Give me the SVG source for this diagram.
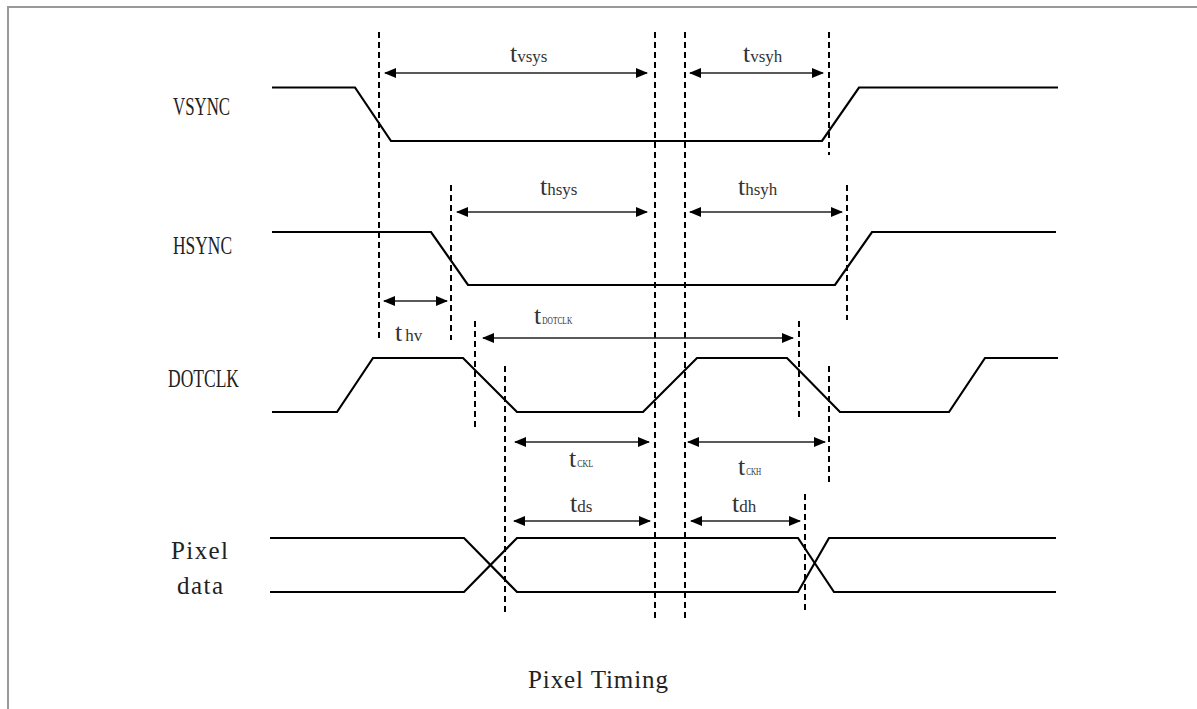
<svg xmlns="http://www.w3.org/2000/svg" width="1197" height="709" viewBox="0 0 1197 709">
<defs>
<marker id="ah" viewBox="0 0 12 10" refX="11" refY="5" markerWidth="12" markerHeight="10" markerUnits="userSpaceOnUse" orient="auto-start-reverse">
<path d="M0,0 L12,5 L0,10 Z" fill="#000"/>
</marker>
</defs>
<style>
.sig{fill:none;stroke:#000;stroke-width:2.2;stroke-linejoin:miter}
.dash{fill:none;stroke:#000;stroke-width:2;stroke-dasharray:6 4}
.dim{fill:none;stroke:#222;stroke-width:1.3;marker-start:url(#ah);marker-end:url(#ah)}
.lbl{font-family:"Liberation Serif",serif;font-size:25px;fill:#222}
.t{font-family:"Liberation Serif",serif;font-size:26px;fill:#333}
.s{font-size:17px}
.c{font-size:10px}
.frame{stroke:#999;stroke-width:2;fill:none}
</style>
<rect width="1197" height="709" fill="#fff"/>
<path class="frame" d="M8,709 L8,7 L1197,7"/>

<g id="labels">
<text class="lbl" x="173" y="115" textLength="57" lengthAdjust="spacingAndGlyphs">VSYNC</text>
<text class="lbl" x="173" y="254" textLength="59" lengthAdjust="spacingAndGlyphs">HSYNC</text>
<text class="lbl" x="168" y="387" textLength="71" lengthAdjust="spacingAndGlyphs">DOTCLK</text>
<text class="lbl" x="171" y="559" textLength="57" lengthAdjust="spacing">Pixel</text>
<text class="lbl" x="177" y="594" textLength="46" lengthAdjust="spacing">data</text>
<text class="lbl" x="528" y="688" textLength="140" lengthAdjust="spacing">Pixel Timing</text>
</g>

<g id="vsync">
<path class="sig" d="M272,87.5 L355,87.5 L391,141 L822,141 L859,87.5 L1058,87.5"/>
</g>
<g id="hsync">
<path class="sig" d="M272,232 L431,232 L468,285 L835,285 L872,232 L1056,232"/>
</g>
<g id="dotclk">
<path class="sig" d="M272,412 L337,412 L373,358 L463,358 L517,412 L643,412 L697,358 L787,358 L840,412 L949,412 L985,358 L1058,358"/>
</g>
<g id="pixeldata">
<path class="sig" d="M270,538 L464,538 L517,592 L798,592 L829,538 L1056,538"/>
<path class="sig" d="M270,592 L464,592 L517,538 L798,538 L834,592 L1056,592"/>
</g>

<g id="connectors">
<line class="dash" x1="379" y1="32" x2="379" y2="340"/>
<line class="dash" x1="655" y1="32" x2="655" y2="618"/>
<line class="dash" x1="685" y1="32" x2="685" y2="618"/>
<line class="dash" x1="829" y1="32" x2="829" y2="155"/>
<line class="dash" x1="451" y1="185" x2="451" y2="340"/>
<line class="dash" x1="847" y1="185" x2="847" y2="320"/>
<line class="dash" x1="475" y1="321" x2="475" y2="428"/>
<line class="dash" x1="799" y1="321" x2="799" y2="418"/>
<line class="dash" x1="505" y1="366" x2="505" y2="616"/>
<line class="dash" x1="829" y1="366" x2="829" y2="483"/>
<line class="dash" x1="805" y1="494" x2="805" y2="613"/>

<line class="dim" x1="385" y1="73" x2="647" y2="73"/>
<line class="dim" x1="690" y1="73" x2="823" y2="73"/>
<line class="dim" x1="457" y1="212" x2="647" y2="212"/>
<line class="dim" x1="690" y1="212" x2="842" y2="212"/>
<line class="dim" x1="384" y1="301" x2="447" y2="301"/>
<line class="dim" x1="483" y1="338" x2="793" y2="338"/>
<line class="dim" x1="515" y1="442" x2="649" y2="442"/>
<line class="dim" x1="688" y1="442" x2="825" y2="442"/>
<line class="dim" x1="514" y1="521" x2="650" y2="521"/>
<line class="dim" x1="691" y1="521" x2="800" y2="521"/>
</g>

<g id="timing-labels">
<text class="t" x="510" y="62">t<tspan class="s">vsys</tspan></text>
<text class="t" x="743" y="62">t<tspan class="s">vsyh</tspan></text>
<text class="t" x="540" y="195">t<tspan class="s">hsys</tspan></text>
<text class="t" x="738" y="195">t<tspan class="s">hsyh</tspan></text>
<text class="t" x="395" y="341">t<tspan class="s" dx="3">hv</tspan></text>
<text class="t" x="534" y="324">t<tspan class="c" dx="1" textLength="30" lengthAdjust="spacingAndGlyphs">DOTCLK</tspan></text>
<text class="t" x="569" y="467">t<tspan class="c" dx="1" textLength="16" lengthAdjust="spacingAndGlyphs">CKL</tspan></text>
<text class="t" x="738" y="475">t<tspan class="c" dx="1" textLength="15" lengthAdjust="spacingAndGlyphs">CKH</tspan></text>
<text class="t" x="570" y="512">t<tspan class="s">ds</tspan></text>
<text class="t" x="732" y="512">t<tspan class="s">dh</tspan></text>
</g>
</svg>
